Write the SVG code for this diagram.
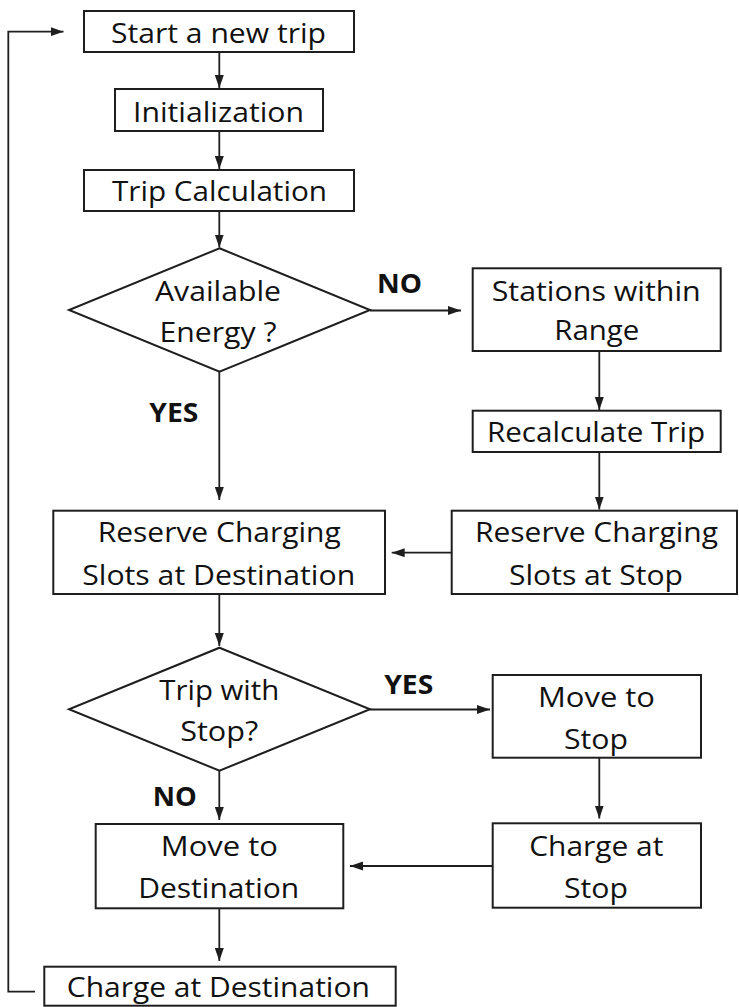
<svg xmlns="http://www.w3.org/2000/svg" width="739" height="1007" viewBox="0 0 739 1007">
  <style>
    .box { fill: #ffffff; stroke: #1e1e1e; stroke-width: 2; }
    .txt { font-family: "Open Sans", "Liberation Sans", sans-serif; font-size: 27.5px; fill: #111111; text-anchor: middle; }
    .lbl { font-family: "Open Sans", "Liberation Sans", sans-serif; font-size: 27px; font-weight: bold; fill: #111111; text-anchor: middle; }
    .edge { fill: none; stroke: #1e1e1e; stroke-width: 1.8; }
  </style>
  <defs>
    <marker id="arrow" markerUnits="userSpaceOnUse" markerWidth="14" markerHeight="10" refX="13" refY="4.5" orient="auto">
      <path d="M0,0 L13,4.5 L0,9 z" fill="#1e1e1e"/>
    </marker>
  </defs>
  <rect width="739" height="1007" fill="#ffffff"/>

  <!-- connectors -->
  <g id="connectors">
    <path class="edge" d="M219.3 52 V88" marker-end="url(#arrow)"/>
    <path class="edge" d="M219.3 131 V169" marker-end="url(#arrow)"/>
    <path class="edge" d="M219.3 211 V247.5" marker-end="url(#arrow)"/>
    <path class="edge" d="M370 310.5 H461" marker-end="url(#arrow)"/>
    <path class="edge" d="M219.3 371.7 V500" marker-end="url(#arrow)"/>
    <path class="edge" d="M599.3 351 V410" marker-end="url(#arrow)"/>
    <path class="edge" d="M599.3 452 V509.5" marker-end="url(#arrow)"/>
    <path class="edge" d="M451.7 552.7 H391.7" marker-end="url(#arrow)"/>
    <path class="edge" d="M219.3 594 V646" marker-end="url(#arrow)"/>
    <path class="edge" d="M370 709.5 H490" marker-end="url(#arrow)"/>
    <path class="edge" d="M219.3 770.7 V820" marker-end="url(#arrow)"/>
    <path class="edge" d="M599.3 757.7 V818.5" marker-end="url(#arrow)"/>
    <path class="edge" d="M492.7 866 H350" marker-end="url(#arrow)"/>
    <path class="edge" d="M219.3 908.3 V961" marker-end="url(#arrow)"/>
    <path class="edge" d="M35 991.7 H8.3 V31.7 H63.5" marker-end="url(#arrow)"/>
  </g>

  <!-- branch labels -->
  <g id="labels">
    <text class="lbl" x="399.5" y="293" textLength="45" lengthAdjust="spacingAndGlyphs">NO</text>
    <text class="lbl" x="173.8" y="421.7" textLength="49" lengthAdjust="spacingAndGlyphs">YES</text>
    <text class="lbl" x="408.7" y="694" textLength="49" lengthAdjust="spacingAndGlyphs">YES</text>
    <text class="lbl" x="174.7" y="805.7" textLength="44" lengthAdjust="spacingAndGlyphs">NO</text>
  </g>

  <g id="start">
    <rect class="box" x="84" y="11" width="270" height="41"/>
    <text class="txt" x="218.5" y="43.3" textLength="215" lengthAdjust="spacingAndGlyphs">Start a new trip</text>
  </g>

  <g id="init">
    <rect class="box" x="115" y="89" width="208" height="42"/>
    <text class="txt" x="218.5" y="121.5" textLength="171" lengthAdjust="spacingAndGlyphs">Initialization</text>
  </g>

  <g id="trip-calc">
    <rect class="box" x="84" y="170" width="270" height="41"/>
    <text class="txt" x="219.5" y="201.3" textLength="215" lengthAdjust="spacingAndGlyphs">Trip Calculation</text>
  </g>

  <g id="energy-check">
    <polygon class="box" points="219.5,248.3 370,310 219.5,371.7 69,310"/>
    <text class="txt" x="218" y="301" textLength="126" lengthAdjust="spacingAndGlyphs">Available</text>
    <text class="txt" x="218" y="341.7" textLength="117" lengthAdjust="spacingAndGlyphs">Energy ?</text>
  </g>

  <g id="stations">
    <rect class="box" x="472.7" y="268.3" width="248" height="82.7"/>
    <text class="txt" x="596.2" y="301" textLength="209" lengthAdjust="spacingAndGlyphs">Stations within</text>
    <text class="txt" x="596.8" y="340" textLength="85" lengthAdjust="spacingAndGlyphs">Range</text>
  </g>

  <g id="recalc">
    <rect class="box" x="472.7" y="410.7" width="248" height="41.3"/>
    <text class="txt" x="596" y="442" textLength="218" lengthAdjust="spacingAndGlyphs">Recalculate Trip</text>
  </g>

  <g id="reserve-dest">
    <rect class="box" x="53.3" y="510.7" width="331.7" height="83.3"/>
    <text class="txt" x="219.2" y="541.7" textLength="243" lengthAdjust="spacingAndGlyphs">Reserve Charging</text>
    <text class="txt" x="218.7" y="585" textLength="273" lengthAdjust="spacingAndGlyphs">Slots at Destination</text>
  </g>

  <g id="reserve-stop">
    <rect class="box" x="451.7" y="510.7" width="285.3" height="83.3"/>
    <text class="txt" x="596.5" y="541.7" textLength="243" lengthAdjust="spacingAndGlyphs">Reserve Charging</text>
    <text class="txt" x="596" y="584.5" textLength="174" lengthAdjust="spacingAndGlyphs">Slots at Stop</text>
  </g>

  <g id="stop-check">
    <polygon class="box" points="219.5,647.7 370,709.3 219.5,770.7 69,709.3"/>
    <text class="txt" x="219.3" y="700" textLength="120" lengthAdjust="spacingAndGlyphs">Trip with</text>
    <text class="txt" x="219.2" y="740.7" textLength="78" lengthAdjust="spacingAndGlyphs">Stop?</text>
  </g>

  <g id="move-stop">
    <rect class="box" x="492.7" y="675" width="208.3" height="82.7"/>
    <text class="txt" x="596.5" y="707.3" textLength="117" lengthAdjust="spacingAndGlyphs">Move to</text>
    <text class="txt" x="596" y="748.5" textLength="64" lengthAdjust="spacingAndGlyphs">Stop</text>
  </g>

  <g id="move-dest">
    <rect class="box" x="95.7" y="824" width="247.6" height="84.3"/>
    <text class="txt" x="219.3" y="855.7" textLength="117" lengthAdjust="spacingAndGlyphs">Move to</text>
    <text class="txt" x="218.7" y="898" textLength="161" lengthAdjust="spacingAndGlyphs">Destination</text>
  </g>

  <g id="charge-stop">
    <rect class="box" x="492.7" y="823.3" width="208.3" height="84.4"/>
    <text class="txt" x="596.3" y="856" textLength="134" lengthAdjust="spacingAndGlyphs">Charge at</text>
    <text class="txt" x="596" y="898" textLength="64" lengthAdjust="spacingAndGlyphs">Stop</text>
  </g>

  <g id="charge-dest">
    <rect class="box" x="44.3" y="966.7" width="351.4" height="39"/>
    <text class="txt" x="218.3" y="997" textLength="303" lengthAdjust="spacingAndGlyphs">Charge at Destination</text>
  </g>
</svg>
